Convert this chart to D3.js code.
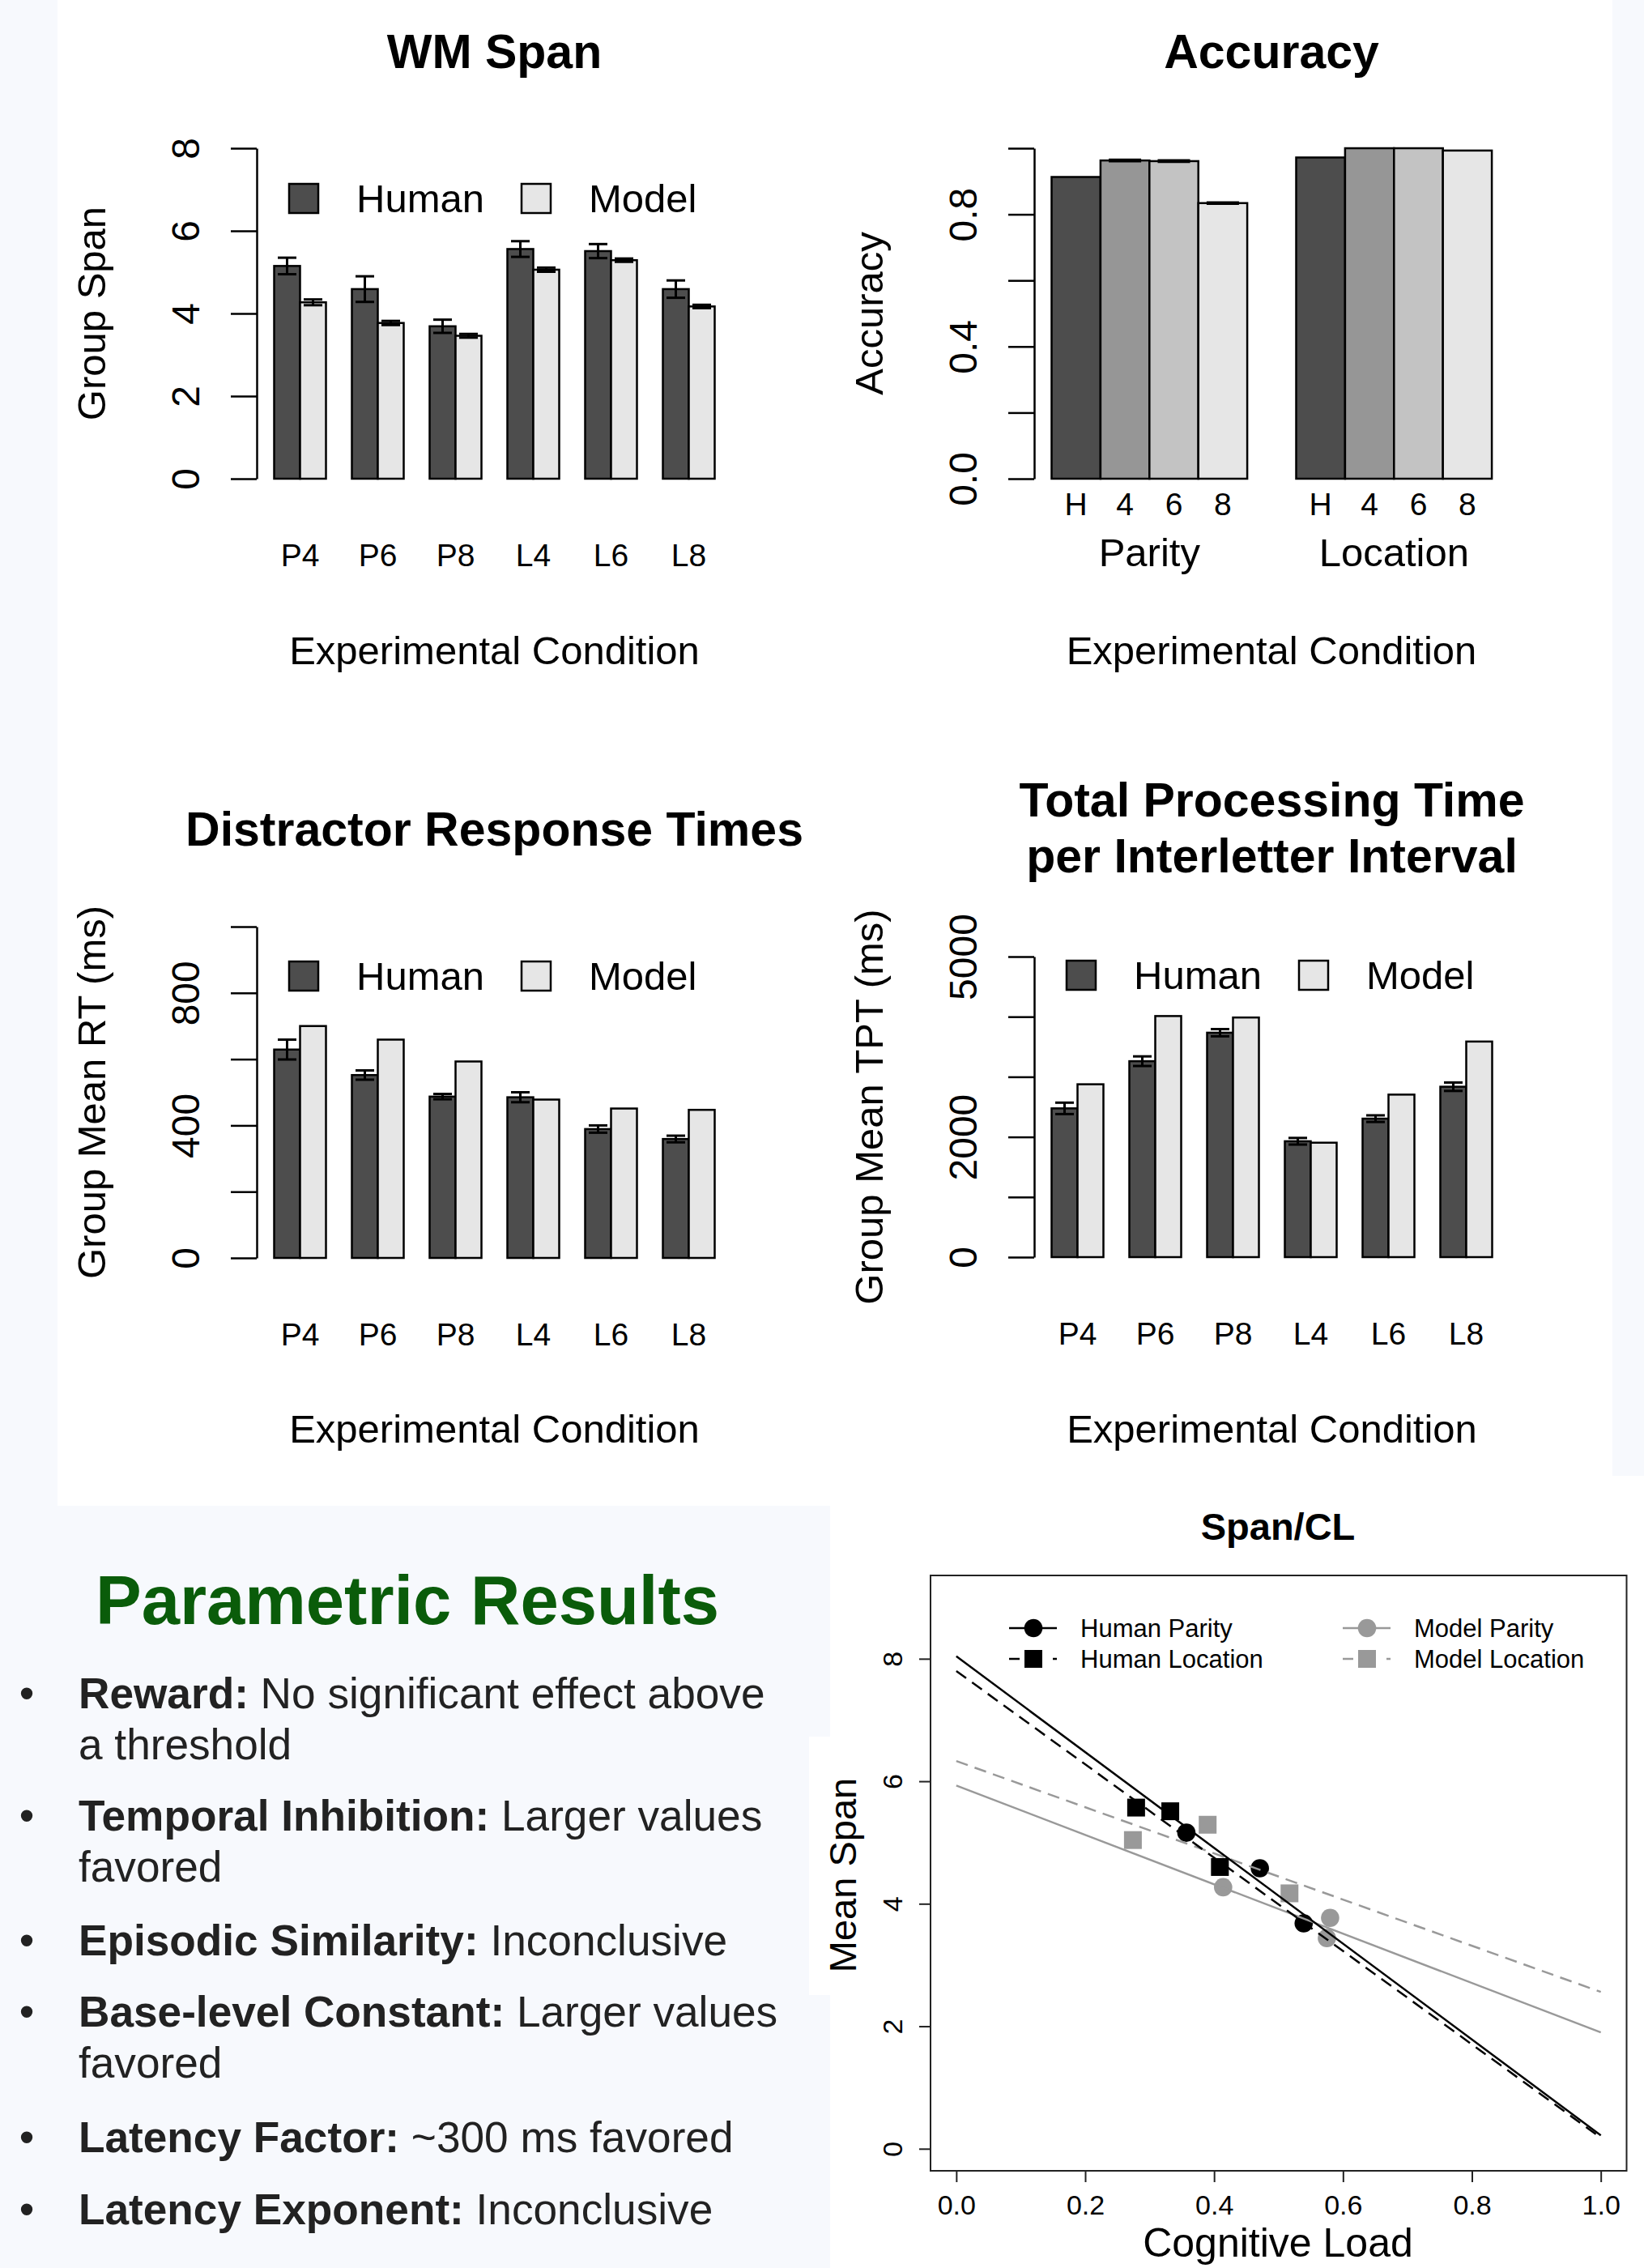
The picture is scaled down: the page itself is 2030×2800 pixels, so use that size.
<!DOCTYPE html>
<html>
<head>
<meta charset="utf-8">
<script src="https://cdn.jsdelivr.net/npm/d3@7"></script>
<style>
body { margin: 0; background: #f7f9fd; }
</style>
</head>
<body>
<div class="canvas"></div>
<script>
var width = 2030,
    height = 2800;

var svg = d3.select(".canvas").append("svg")
    .attr("width", width)
    .attr("height", height);

var FONT = '"Liberation Sans", Arial, Helvetica, sans-serif';
var HUMAN = "#4d4d4d", MODEL = "#e6e6e6", GREY = "#999999";

// ---- data ----
var conditions = ["P4", "P6", "P8", "L4", "L6", "L8"];
var seriesNames = ["Human", "Model"];

var spanHuman = [5.15, 4.59, 3.69, 5.56, 5.51, 4.59];
var spanHumanErr = [0.2, 0.31, 0.16, 0.19, 0.17, 0.21];
var spanModel = [4.27, 3.77, 3.46, 5.06, 5.29, 4.17];
var spanModelErr = [0.07, 0.05, 0.045, 0.05, 0.04, 0.04];
var spanTicks = [0, 2, 4, 6, 8];
var spanTickLabels = ["0", "2", "4", "6", "8"];

var rtHuman = [629, 552, 487, 485, 389, 359];
var rtHumanErr = [30, 14, 8, 15, 11, 10];
var rtModel = [700, 659, 593, 478, 451, 447];
var rtTicks = [0, 200, 400, 600, 800, 1000];
var rtTickLabels = ["0", "", "400", "", "800", ""];

var tptHuman = [2475, 3260, 3734, 1928, 2304, 2835];
var tptHumanErr = [95, 80, 60, 55, 55, 70];
var tptModel = [2876, 4011, 3987, 1904, 2704, 3587];
var tptTicks = [0, 1000, 2000, 3000, 4000, 5000];
var tptTickLabels = ["0", "", "2000", "", "", "5000"];

var accTasks = ["Parity", "Location"];
var accLevels = ["H", "4", "6", "8"];
var accParity = [0.913, 0.963, 0.961, 0.834];
var accLocation = [0.972, 1.0, 1.0, 0.993];
var accParityErr = [0, 0.002, 0.002, 0.002];
var accTicks = [0, 0.2, 0.4, 0.6, 0.8, 1.0];
var accTickLabels = ["0.0", "", "0.4", "", "0.8", ""];

var clNames = ["Human Parity", "Human Location", "Model Parity", "Model Location"];
var clHumanParityX = [0.357, 0.471, 0.539];
var clHumanParityY = [5.16, 4.58, 3.68];
var clHumanLocX = [0.279, 0.332, 0.409];
var clHumanLocY = [5.57, 5.51, 4.60];
var clModelParityX = [0.414, 0.580, 0.575];
var clModelParityY = [4.27, 3.77, 3.44];
var clModelLocX = [0.274, 0.390, 0.517];
var clModelLocY = [5.04, 5.29, 4.17];
// fitted lines, read where they cross x = 0 and x = 1
var clFitAt0 = [8.04, 7.80, 5.93, 6.33];
var clFitAt1 = [0.22, 0.18, 1.90, 2.56];
var clXTicks = [0, 0.2, 0.4, 0.6, 0.8, 1.0];
var clYTicks = [0, 2, 4, 6, 8];

var bulletTerms = ["Reward:", "Temporal Inhibition:", "Episodic Similarity:",
    "Base-level Constant:", "Latency Factor:", "Latency Exponent:"];
var bulletText = [
    [" No significant effect above", "a threshold"],
    [" Larger values", "favored"],
    [" Inconclusive"],
    [" Larger values", "favored"],
    [" ~300 ms favored"],
    [" Inconclusive"]
];

// ---- panels ----
svg.append("rect").attr("width", width).attr("height", height).attr("fill", "#f7f9fd");
svg.append("rect").attr("x", 71).attr("y", 0).attr("width", 1920).attr("height", 1859).attr("fill", "#fff");
svg.append("rect").attr("x", 1025).attr("y", 1822).attr("width", 1005).attr("height", 978).attr("fill", "#fff");
svg.append("rect").attr("x", 999).attr("y", 2144).attr("width", 26).attr("height", 319).attr("fill", "#fff");

function label(g, txt, x, y, size, opts) {
    opts = opts || {};
    var t = g.append("text")
        .attr("font-family", FONT)
        .attr("font-size", size)
        .attr("text-anchor", opts.anchor || "middle")
        .attr("fill", opts.fill || "#000")
        .text(txt);
    if (opts.bold) t.attr("font-weight", "bold");
    if (opts.rotate) t.attr("transform", "translate(" + x + "," + y + ") rotate(-90)");
    else t.attr("x", x).attr("y", y);
    return t;
}

// R style y axis: ticks out, labels turned along the axis
function yAxis(g, scale, ticks, labels, ax, tick, lab, fs) {
    var a = g.append("g")
        .attr("transform", "translate(" + ax + ",0)")
        .call(d3.axisLeft(scale).tickValues(ticks).tickSize(tick).tickSizeOuter(0)
            .tickFormat(function(d) { return labels[ticks.indexOf(d)]; }));
    a.attr("font-family", FONT).attr("font-size", fs);
    a.select(".domain").attr("stroke", "#000").attr("stroke-width", 2.5);
    a.selectAll(".tick line").attr("stroke", "#000").attr("stroke-width", 2.5);
    a.selectAll(".tick text")
        .attr("x", null).attr("dy", null)
        .attr("fill", "#000")
        .attr("text-anchor", "middle")
        .attr("transform", "translate(" + (-lab) + ",0) rotate(-90)");
    return a;
}

function errorBar(g, x, y, v, e, half) {
    if (!e) return;
    g.append("line").attr("x1", x).attr("x2", x).attr("y1", y(v - e)).attr("y2", y(v + e))
        .attr("stroke", "#000").attr("stroke-width", 3);
    [v - e, v + e].forEach(function(w) {
        g.append("line").attr("x1", x - half).attr("x2", x + half).attr("y1", y(w)).attr("y2", y(w))
            .attr("stroke", "#000").attr("stroke-width", 3);
    });
}

//This function draws one Human/Model grouped bar chart
function barChart(o) {
    var g = svg.append("g");
    var y = d3.scaleLinear().domain([0, o.ticks[o.ticks.length - 1]]).range([o.bottom, o.top]);
    var x0 = d3.scaleBand().domain(conditions)
        .range([o.axisX + 5.5, o.axisX + 581.5])
        .paddingInner(1 / 3).paddingOuter(1 / 6);
    var x1 = d3.scaleBand().domain(seriesNames).range([0, x0.bandwidth()]);
    var cx = o.axisX + 293.5;

    conditions.forEach(function(c, i) {
        var rows = [
            { s: "Human", v: o.human[i], e: o.humanErr[i] },
            { s: "Model", v: o.model[i], e: o.modelErr ? o.modelErr[i] : 0 }
        ];
        var gg = g.append("g").attr("transform", "translate(" + x0(c) + ",0)");
        gg.selectAll("rect").data(rows).enter().append("rect")
            .attr("x", function(d) { return x1(d.s); })
            .attr("y", function(d) { return y(d.v); })
            .attr("width", x1.bandwidth())
            .attr("height", function(d) { return y(0) - y(d.v); })
            .attr("fill", function(d) { return d.s == "Human" ? HUMAN : MODEL; })
            .attr("stroke", "#000")
            .attr("stroke-width", 2.5);
        rows.forEach(function(d) {
            errorBar(gg, x1(d.s) + x1.bandwidth() / 2, y, d.v, d.e, 11.5);
        });
    });

    yAxis(g, y, o.ticks, o.tickLabels, o.axisX, 32, 71, 48);

    var names = g.append("g")
        .attr("transform", "translate(0," + o.namesY + ")")
        .call(d3.axisBottom(x0).tickSize(0).tickPadding(0));
    names.select(".domain").remove();
    names.attr("font-family", FONT).attr("font-size", 39);
    names.selectAll(".tick text").attr("y", 0).attr("dy", null).attr("fill", "#000");

    // legend
    seriesNames.forEach(function(s, i) {
        var bx = o.axisX + (i == 0 ? 40 : 327);
        g.append("rect").attr("x", bx).attr("y", o.legendY - 18).attr("width", 36).attr("height", 36)
            .attr("fill", i == 0 ? HUMAN : MODEL).attr("stroke", "#000").attr("stroke-width", 2.5);
        label(g, s, bx + 83, o.legendY + 17, 49, { anchor: "start" });
    });

    o.title.forEach(function(t, i) {
        label(g, t, cx, o.titleY[i], 59, { bold: true });
    });
    label(g, o.ylab, o.axisX - 187, (o.top + o.bottom) / 2, 49, { rotate: true });
    label(g, "Experimental Condition", cx, o.xlabY, 49);
}

barChart({
    axisX: 317, top: 183, bottom: 591, ticks: spanTicks, tickLabels: spanTickLabels,
    human: spanHuman, humanErr: spanHumanErr, model: spanModel, modelErr: spanModelErr,
    namesY: 699, legendY: 245, title: ["WM Span"], titleY: [84],
    ylab: "Group Span", xlabY: 820
});

barChart({
    axisX: 317, top: 1144, bottom: 1553, ticks: rtTicks, tickLabels: rtTickLabels,
    human: rtHuman, humanErr: rtHumanErr, model: rtModel,
    namesY: 1661, legendY: 1205, title: ["Distractor Response Times"], titleY: [1044],
    ylab: "Group Mean RT (ms)", xlabY: 1781
});

barChart({
    axisX: 1277, top: 1181, bottom: 1552, ticks: tptTicks, tickLabels: tptTickLabels,
    human: tptHuman, humanErr: tptHumanErr, model: tptModel,
    namesY: 1660, legendY: 1204, title: ["Total Processing Time", "per Interletter Interval"], titleY: [1008, 1077],
    ylab: "Group Mean TPT (ms)", xlabY: 1781
});

// ---- Accuracy ----
(function() {
    var g = svg.append("g");
    var axisX = 1277, top = 183, bottom = 591;
    var y = d3.scaleLinear().domain([0, 1]).range([bottom, top]);
    var x0 = d3.scaleBand().domain(accTasks).range([1268.3, 1872.3]).paddingInner(0.2).paddingOuter(0.1);
    var x1 = d3.scaleBand().domain(accLevels).range([0, x0.bandwidth()]);
    var shade = d3.scaleOrdinal().domain(accLevels).range(["#4d4d4d", "#969696", "#c3c3c3", "#e6e6e6"]);
    var vals = [accParity, accLocation];
    var errs = [accParityErr, [0, 0, 0, 0]];

    accTasks.forEach(function(t, k) {
        var gg = g.append("g").attr("transform", "translate(" + x0(t) + ",0)");
        gg.selectAll("rect").data(accLevels).enter().append("rect")
            .attr("x", function(d) { return x1(d); })
            .attr("y", function(d, i) { return y(vals[k][i]); })
            .attr("width", x1.bandwidth())
            .attr("height", function(d, i) { return y(0) - y(vals[k][i]); })
            .attr("fill", function(d) { return shade(d); })
            .attr("stroke", "#000")
            .attr("stroke-width", 2.5);
        accLevels.forEach(function(d, i) {
            errorBar(gg, x1(d) + x1.bandwidth() / 2, y, vals[k][i], errs[k][i], 20);
        });
        var names = gg.append("g")
            .attr("transform", "translate(0,636)")
            .call(d3.axisBottom(x1).tickSize(0).tickPadding(0));
        names.select(".domain").remove();
        names.attr("font-family", FONT).attr("font-size", 39);
        names.selectAll(".tick text").attr("y", 0).attr("dy", null).attr("fill", "#000");
        label(g, t, x0(t) + x0.bandwidth() / 2, 699, 49);
    });

    yAxis(g, y, accTicks, accTickLabels, axisX, 32, 71, 48);
    label(g, "Accuracy", 1570, 84, 59, { bold: true });
    label(g, "Accuracy", axisX - 187, (top + bottom) / 2, 49, { rotate: true });
    label(g, "Experimental Condition", 1570, 820, 49);
})();

// ---- Parametric results text ----
(function() {
    var g = svg.append("g");
    label(g, "Parametric Results", 503, 2005, 85, { bold: true, fill: "#0a5c0a" });
    var firstY = [2109, 2260, 2414, 2502, 2657, 2746];
    bulletTerms.forEach(function(term, i) {
        label(g, "\u2022", 33, firstY[i], 53, { fill: "#222" });
        var t = g.append("text")
            .attr("x", 97).attr("y", firstY[i])
            .attr("font-family", FONT).attr("font-size", 53.2).attr("fill", "#222");
        t.append("tspan").attr("font-weight", "bold").text(term);
        t.append("tspan").text(bulletText[i][0]);
        if (bulletText[i][1]) {
            label(g, bulletText[i][1], 97, firstY[i] + 63, 53.2, { anchor: "start", fill: "#222" });
        }
    });
})();

// ---- Span/CL ----
(function() {
    var g = svg.append("g");
    var left = 1149, right = 2008.5, top = 1945, bottom = 2680;
    var x = d3.scaleLinear().domain([-0.04, 1.04]).range([left, right]);
    var y = d3.scaleLinear().domain([-0.36, 9.36]).range([bottom, top]);

    var series = [
        { name: clNames[0], xs: clHumanParityX, ys: clHumanParityY, color: "#000", shape: "circle", dash: null },
        { name: clNames[1], xs: clHumanLocX, ys: clHumanLocY, color: "#000", shape: "square", dash: "15,9" },
        { name: clNames[2], xs: clModelParityX, ys: clModelParityY, color: GREY, shape: "circle", dash: null },
        { name: clNames[3], xs: clModelLocX, ys: clModelLocY, color: GREY, shape: "square", dash: "15,9" }
    ];

    function mark(sel, shape, px, py, color) {
        if (shape == "circle") {
            sel.append("circle").attr("cx", px).attr("cy", py).attr("r", 11.3).attr("fill", color);
        } else {
            sel.append("rect").attr("x", px - 11).attr("y", py - 11).attr("width", 22).attr("height", 22).attr("fill", color);
        }
    }

    series.forEach(function(s) {
        s.xs.forEach(function(v, i) { mark(g, s.shape, x(v), y(s.ys[i]), s.color); });
    });

    var line = d3.line().x(function(d) { return x(d[0]); }).y(function(d) { return y(d[1]); });
    [2, 3, 0, 1].forEach(function(k) {
        var s = series[k];
        g.append("path").datum([[0, clFitAt0[k]], [1, clFitAt1[k]]])
            .attr("d", line).attr("fill", "none")
            .attr("stroke", s.color).attr("stroke-width", 2.5)
            .attr("stroke-dasharray", s.dash);
    });

    g.append("rect").attr("x", left).attr("y", top).attr("width", right - left).attr("height", bottom - top)
        .attr("fill", "none").attr("stroke", "#222").attr("stroke-width", 2);

    var xa = g.append("g").attr("transform", "translate(0," + bottom + ")")
        .call(d3.axisBottom(x).tickValues(clXTicks).tickSize(14).tickFormat(d3.format(".1f")));
    xa.select(".domain").remove();
    xa.attr("font-family", FONT).attr("font-size", 34);
    xa.selectAll(".tick line").attr("stroke", "#222").attr("stroke-width", 2);
    xa.selectAll(".tick text").attr("y", 54).attr("dy", null).attr("fill", "#000");

    var ya = yAxis(g, y, clYTicks, clYTicks.map(String), left, 14, 35, 34);
    ya.select(".domain").remove();
    ya.selectAll(".tick line").attr("stroke", "#222").attr("stroke-width", 2);

    // legend
    var legX = [1246, 1246, 1658, 1658];
    var legY = [2010, 2048, 2010, 2048];
    series.forEach(function(s, k) {
        var lx = legX[k], ly = legY[k];
        g.append("line").attr("x1", lx).attr("x2", lx + 59).attr("y1", ly).attr("y2", ly)
            .attr("stroke", s.color).attr("stroke-width", 2.5)
            .attr("stroke-dasharray", s.dash ? "13,41,5" : null);
        mark(g, s.shape, lx + 30, ly, s.color);
        label(g, s.name, lx + 88, ly + 11, 31, { anchor: "start" });
    });

    label(g, "Span/CL", 1578, 1901, 47, { bold: true });
    label(g, "Mean Span", 1057, 2315, 47, { rotate: true });
    label(g, "Cognitive Load", 1578, 2786, 50);
})();
</script>
</body>
</html>
